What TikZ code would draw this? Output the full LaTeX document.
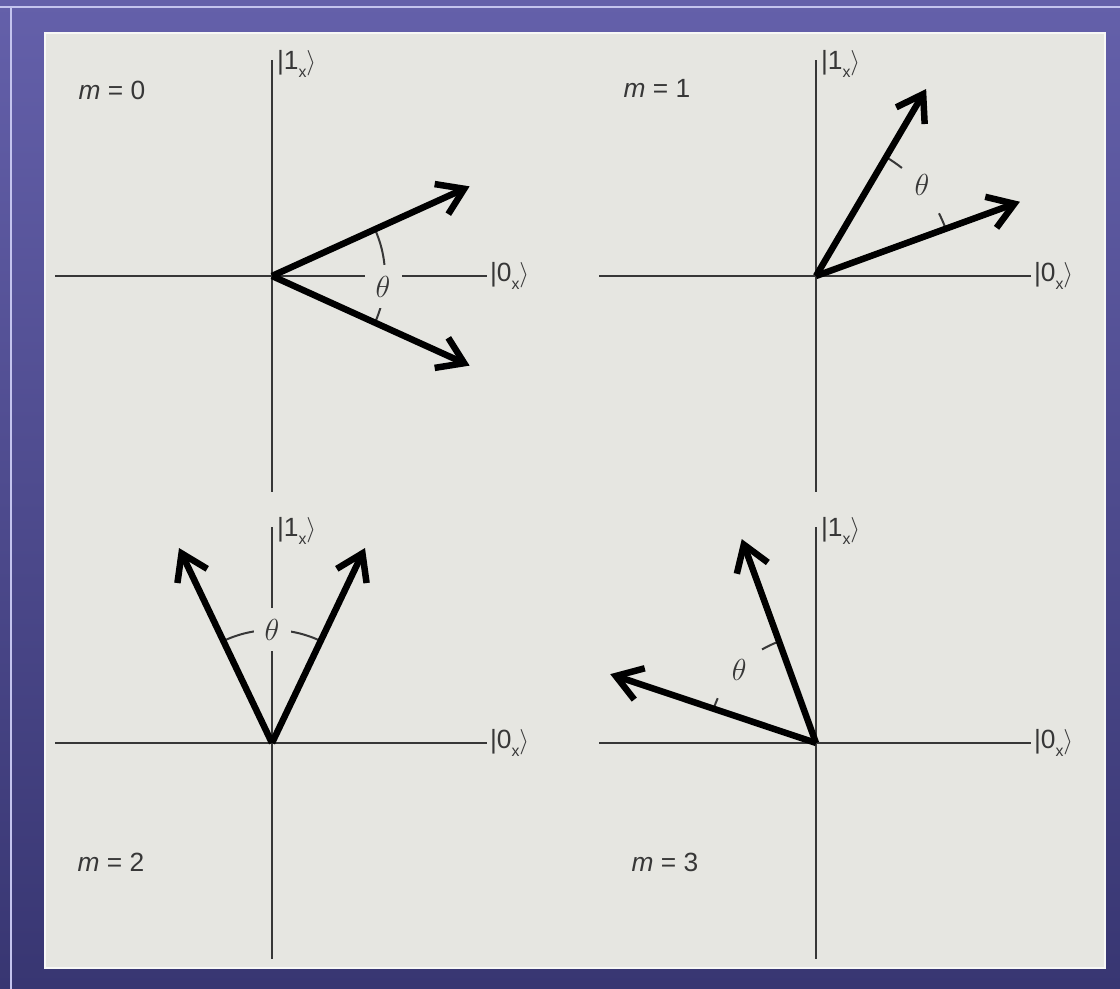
\documentclass[tikz,border=0pt]{standalone}
\usepackage{fontspec}
\setmainfont{Liberation Sans}
\usetikzlibrary{arrows.meta}

\definecolor{frameblue}{RGB}{100,96,170}
\definecolor{framedark}{RGB}{56,54,114}
\definecolor{framelight}{RGB}{196,196,238}
\definecolor{panelgrey}{RGB}{230,230,225}
\definecolor{axisgrey}{RGB}{55,55,55}

\newcommand{\subx}{\raisebox{-0.55ex}{\fontsize{9}{10}\selectfont x}}

\tikzset{
	axis/.style = {axisgrey, line width=0.04cm},
	vec/.style = {black, line width=0.13cm, -{Straight Barb[length=0.5cm, width=0.66cm]}},
	anglearc/.style = {axisgrey, line width=0.04cm},
	thetalbl/.style = {fill=panelgrey, text=axisgrey, inner sep=0pt, minimum width=0.74cm, minimum height=0.86cm, font=\fontsize{17}{19}\selectfont},
	ket/.style = {inner sep=0pt, text=axisgrey, font=\fontsize{15}{18}\selectfont},
	mlbl/.style = {inner sep=0pt, text=axisgrey, font=\fontsize{15}{18}\selectfont}
}

\begin{document}
\begin{tikzpicture}
	\useasboundingbox (0,0) rectangle (22.4,19.78);
	\fill [top color=frameblue, bottom color=framedark] (0,0) rectangle (22.4,19.78);
	\draw [framelight, line width=0.05cm] (0,19.64) -- (22.4,19.64);
	\draw [framelight, line width=0.05cm] (0.22,0) -- (0.22,19.64);
	\draw [fill=panelgrey, draw=white!70!panelgrey, line width=0.03cm] (0.9,0.42) rectangle (22.1,19.12);

	% axes with their kets
	\foreach \i/\x/\y in {0/5.44/14.26, 1/16.32/14.26, 2/5.44/4.92, 3/16.32/4.92} {
		\coordinate (o\i) at (\x,\y);
		\draw [axis] (\x-4.34,\y) -- (\x+4.3,\y) node [ket, anchor=west, xshift=0.04cm] (kzero\i) {|0\subx$\rangle$};
		\draw [axis] (\x,\y-4.32) -- (\x,\y+4.32) node [ket, anchor=west, xshift=0.08cm, yshift=-0.08cm] (kone\i) {|1\subx$\rangle$};
	}

	% m = 0
	\node [mlbl] (m0) at (2.24,17.98) {\textit{m} = 0};
	\draw [anglearc] (o0) ++(24.4:2.26) arc [start angle=24.4, end angle=-24.4, radius=2.26];
	\node [thetalbl] (th0) at (7.66,14.05) {$\theta$};
	\draw [vec] (o0) -- ++(24.4:4.34);
	\draw [vec] (o0) -- ++(-24.4:4.34);

	% m = 1
	\node [mlbl] (m1) at (13.14,18.02) {\textit{m} = 1};
	\draw [anglearc] (o1) ++(59.5:2.76) arc [start angle=59.5, end angle=51.5, radius=2.76];
	\draw [anglearc] (o1) ++(27:2.76) arc [start angle=27, end angle=20, radius=2.76];
	\node [thetalbl, fill=none] (th1) at ([shift={(40.6:2.79)}]o1) {$\theta$};
	\draw [vec] (o1) -- ++(59.5:4.34);
	\draw [vec] (o1) -- ++(20:4.34);

	% m = 2
	\node [mlbl] (m2) at (2.22,2.54) {\textit{m} = 2};
	\draw [anglearc] (o2) ++(64.5:2.26) arc [start angle=64.5, end angle=115.5, radius=2.26];
	\node [thetalbl] (th2) at (5.44,7.18) {$\theta$};
	\draw [vec] (o2) -- ++(64.5:4.32);
	\draw [vec] (o2) -- ++(115.5:4.32);

	% m = 3
	\node [mlbl] (m3) at (13.3,2.54) {\textit{m} = 3};
	\draw [anglearc] (o3) ++(110:2.16) arc [start angle=110, end angle=120, radius=2.16];
	\draw [anglearc] (o3) ++(155.5:2.16) arc [start angle=155.5, end angle=161.5, radius=2.16];
	\node [thetalbl, fill=none] (th3) at ([shift={(136.5:2.12)}]o3) {$\theta$};
	\draw [vec] (o3) -- ++(110:4.34);
	\draw [vec] (o3) -- ++(161.5:4.34);
\end{tikzpicture}
\end{document}
